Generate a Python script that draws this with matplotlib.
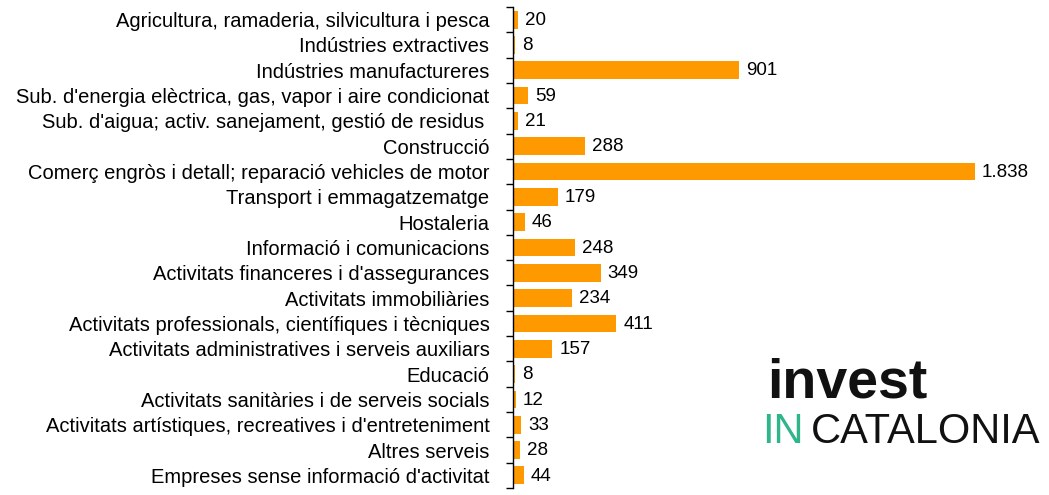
import matplotlib
matplotlib.use("Agg")
import matplotlib.pyplot as plt
import numpy as np

categories = [
    "Agricultura, ramaderia, silvicultura i pesca",
    "Indústries extractives",
    "Indústries manufactureres",
    "Sub. d'energia elèctrica, gas, vapor i aire condicionat",
    "Sub. d'aigua; activ. sanejament, gestió de residus ",
    "Construcció",
    "Comerç engròs i detall; reparació vehicles de motor",
    "Transport i emmagatzematge",
    "Hostaleria",
    "Informació i comunicacions",
    "Activitats financeres i d'assegurances",
    "Activitats immobiliàries",
    "Activitats professionals, científiques i tècniques",
    "Activitats administratives i serveis auxiliars",
    "Educació",
    "Activitats sanitàries i de serveis socials",
    "Activitats artístiques, recreatives i d'entreteniment",
    "Altres serveis",
    "Empreses sense informació d'activitat",
]
values = [20, 8, 901, 59, 21, 288, 1838, 179, 46, 248, 349, 234, 411, 157, 8, 12, 33, 28, 44]

plt.rcParams['font.family'] = ['Liberation Sans', 'DejaVu Sans']

W, H = 1049, 495
fig = plt.figure(figsize=(W / 100, H / 100), dpi=100)
ax = fig.add_axes([513 / W, 1 - 488 / H, (1045 - 513) / W, (488 - 7) / H])

n = len(categories)
y = np.arange(n)
ax.barh(y, values, height=0.7, color='#FF9900')
ax.set_ylim(n - 0.5, -0.5)
scale = (975 - 513) / 1838.0
ax.set_xlim(0, (1045 - 513) / scale)

ax.set_yticks(y)
ax.set_yticklabels(categories, fontsize=14.5, color='#000000')
ax.set_yticks(np.arange(-0.5, n, 1.0), minor=True)
ax.tick_params(axis='y', which='major', length=0, pad=17)
ax.tick_params(axis='y', which='minor', length=5, width=1, color='black', direction='out')
ax.set_xticks([])
for s in ['top', 'right', 'bottom']:
    ax.spines[s].set_visible(False)
ax.spines['left'].set_linewidth(1)

def fmt(v):
    return f"{v:,}".replace(",", ".")

for yi, v in zip(y, values):
    ax.annotate(fmt(v), xy=(v, yi), xytext=(5, -0.5), textcoords='offset points',
                va='center', ha='left', fontsize=13.5, color='#000000')

# logo
fig.text(767 / W, 1 - 398 / H, "invest", fontsize=40, fontweight='bold',
         color='#111111', ha='left', va='baseline')
fig.text(762 / W, 1 - 443 / H, "IN", fontsize=30, color='#2fb58a',
         ha='left', va='baseline')
fig.text(811 / W, 1 - 443 / H, "CATALONIA", fontsize=30, color='#111111',
         ha='left', va='baseline')

fig.savefig("out.png", dpi=100)
